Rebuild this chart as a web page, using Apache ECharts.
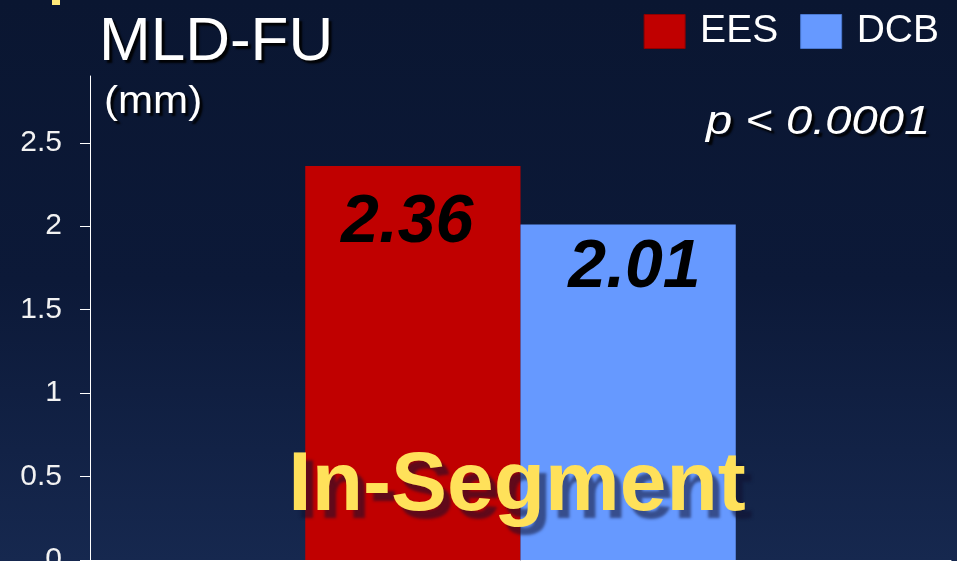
<!DOCTYPE html>
<html>
<head>
<meta charset="utf-8">
<style>
  html, body { margin: 0; padding: 0; background: #0b1631; }
  #chart { width: 957px; height: 561px; }
</style>
<script src="https://cdn.jsdelivr.net/npm/echarts@6/dist/echarts.min.js"></script>
</head>
<body>
<div id="chart"></div>
<script>
// Minimal lumen diameter at follow-up, in-segment analysis
const categories = ['In-Segment'];
const seriesNames = ['EES', 'DCB'];
const eesValues = [2.36];
const dcbValues = [2.01];
const yTicks = [0, 0.5, 1, 1.5, 2, 2.5];

const FONT = '"Liberation Sans", Arial, Helvetica, sans-serif';

const chart = echarts.init(document.getElementById('chart'), null, { renderer: 'canvas' });

function valueLabel(pos) {
  return {
    show: true,
    position: pos,
    align: 'center',
    verticalAlign: 'middle',
    color: '#000',
    fontFamily: FONT,
    fontWeight: 'bold',
    fontStyle: 'italic',
    fontSize: 68,
    formatter: p => p.value.toFixed(2)
  };
}

chart.setOption({
  backgroundColor: {
    type: 'linear', x: 0, y: 0, x2: 0, y2: 1,
    colorStops: [
      { offset: 0, color: '#0a1631' },
      { offset: 0.5, color: '#0c1938' },
      { offset: 1, color: '#16284f' }
    ]
  },
  animation: false,
  grid: { left: 90, right: 6, top: 76, bottom: 1, containLabel: false, outerBoundsMode: 'none' },
  legend: {
    right: 13, top: 7,
    itemWidth: 41, itemHeight: 34, itemGap: 22,
    icon: 'rect',
    textStyle: { color: '#fff', fontFamily: FONT, fontSize: 39, padding: [0, 0, 0, 10] },
    data: [
      { name: seriesNames[0], itemStyle: { borderColor: '#8e0000', borderWidth: 1 } },
      { name: seriesNames[1], itemStyle: { borderColor: '#4a78d0', borderWidth: 1 } }
    ]
  },
  xAxis: {
    type: 'category',
    data: categories,
    axisLine: { show: true, lineStyle: { color: '#ffffff', width: 1 } },
    axisTick: { show: false },
    axisLabel: { show: false }
  },
  yAxis: {
    type: 'value',
    min: 0, max: 2.9,
    axisLine: { show: true, lineStyle: { color: '#ffffff', width: 1 } },
    axisTick: { show: true, length: 10, customValues: yTicks, lineStyle: { color: '#ffffff' } },
    axisLabel: {
      customValues: yTicks,
      color: '#f2f2f2', fontFamily: FONT, fontSize: 30, margin: 28,
      formatter: v => String(v)
    },
    splitLine: { show: false }
  },
  series: [
    {
      name: seriesNames[0], type: 'bar',
      data: eesValues.map(v => ({ value: v, label: valueLabel([102, 57]) })),
      itemStyle: { color: '#c00000' },
      barGap: '0%', barCategoryGap: '50%'
    },
    {
      name: seriesNames[1], type: 'bar',
      data: dcbValues.map(v => ({ value: v, label: valueLabel([114, 44]) })),
      itemStyle: { color: '#6699ff' },
      barGap: '0%', barCategoryGap: '50%'
    }
  ],
  graphic: [
    { type: 'rect', left: 52, top: 0, shape: { width: 8, height: 5 }, style: { fill: '#ffe97a' }, z: 10 },
    {
      type: 'text', x: 99, y: 12, z: 10,
      style: {
        text: 'MLD-FU', fill: '#ffffff', font: '62px ' + FONT,
        textShadowColor: 'rgba(0,0,0,0.9)', textShadowOffsetX: 3, textShadowOffsetY: 3, textShadowBlur: 2
      }
    },
    {
      type: 'text', x: 104, y: 83, scaleX: 1.08, z: 10,
      style: {
        text: '(mm)', fill: '#ffffff', font: '39px ' + FONT,
        textShadowColor: 'rgba(0,0,0,0.9)', textShadowOffsetX: 3, textShadowOffsetY: 3, textShadowBlur: 2
      }
    },
    {
      type: 'text', x: 706, y: 102, scaleX: 1.15, z: 10,
      style: {
        text: 'p < 0.0001', fill: '#ffffff', font: 'italic 41px ' + FONT,
        textShadowColor: 'rgba(0,0,0,0.9)', textShadowOffsetX: 3, textShadowOffsetY: 3, textShadowBlur: 2
      }
    },
    {
      type: 'text', x: 517, y: 487, z: 20,
      style: {
        text: categories[0], fill: '#ffe15a', font: 'bold 84px ' + FONT,
        align: 'center', verticalAlign: 'middle',
        textShadowColor: 'rgba(16,16,48,0.55)', textShadowOffsetX: 7, textShadowOffsetY: 8, textShadowBlur: 3
      }
    }
  ]
});
</script>
</body>
</html>
